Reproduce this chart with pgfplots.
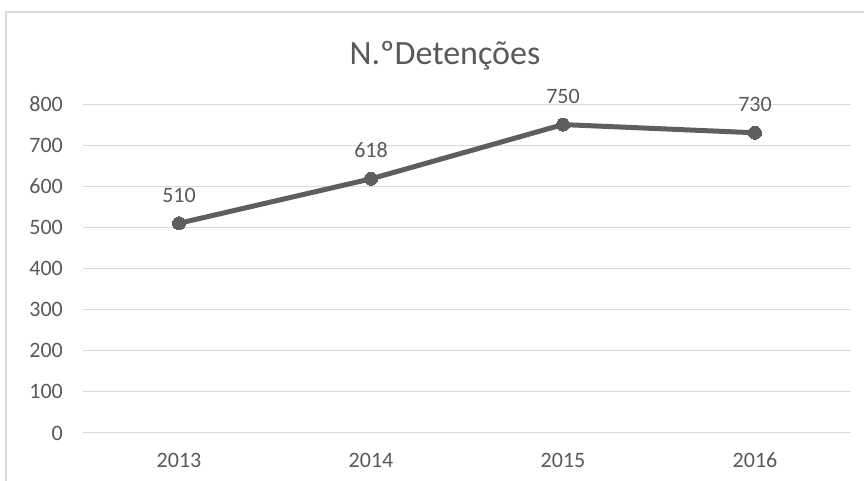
\documentclass[border=0pt]{standalone}
\usepackage{pgfplots}
\pgfplotsset{compat=1.18}
\usepackage{fontspec}
\setmainfont{Carlito}
\definecolor{txt}{HTML}{595959}
\definecolor{gridc}{HTML}{D9D9D9}
\definecolor{lnc}{HTML}{5E5E5E}
\begin{document}
\begin{tikzpicture}
\useasboundingbox (-83pt,-48pt) rectangle (781pt,433pt);
\draw[gridc, line width=1.5pt] (-77pt,-60pt) -- (-77pt,421pt) -- (800pt,421pt);
\begin{axis}[name=ax, at={(0pt,0pt)}, anchor=south west,
  scale only axis, width=768pt, height=329pt,
  xmin=2012.5, xmax=2016.5, ymin=0, ymax=800,
  xtick={2013,2014,2015,2016}, ytick={0,100,...,800},
  /pgf/number format/1000 sep={},
  /pgf/number format/assume math mode=true,
  axis line style={draw=none}, tick style={draw=none},
  major tick length=0pt,
  ymajorgrids, grid style={gridc, line width=1pt},
  tick label style={font=\fontsize{22}{26}\selectfont, text=txt},
  yticklabel style={anchor=east, inner sep=0pt, xshift=-20pt},
  xticklabel style={anchor=base, inner sep=0pt, yshift=-35pt},
  clip=false,
  nodes near coords,
  nodes near coords style={anchor=base, yshift=21pt, inner sep=0pt, font=\fontsize{22}{26}\selectfont, text=txt},
]
\addplot[lnc, line width=5pt, mark=*, mark size=6.5pt, mark options={fill=lnc, draw=lnc, line width=0pt}]
  coordinates {(2013,510) (2014,618) (2015,750) (2016,730)};
\end{axis}
\node[anchor=base, font=\fontsize{34}{40}\selectfont, text=txt] at (362pt,368pt) {N.ºDetenções};
\end{tikzpicture}
\end{document}
